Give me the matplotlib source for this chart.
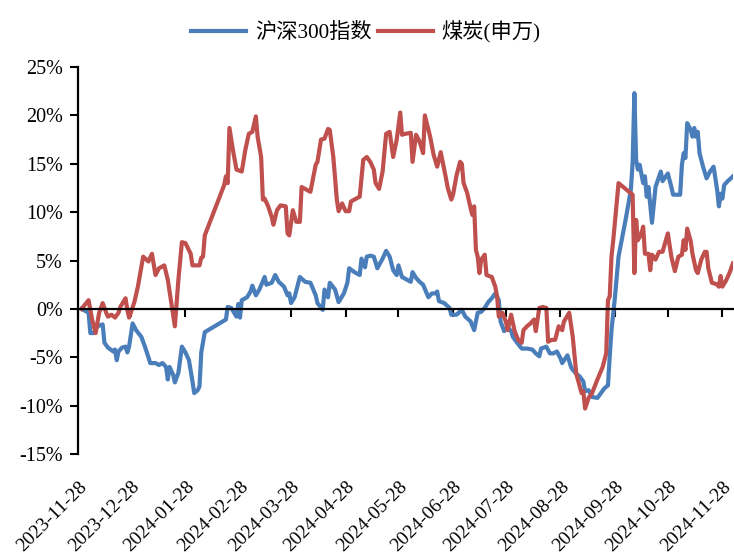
import matplotlib.pyplot as plt
import matplotlib.transforms as mtransforms
import pandas as pd

plt.rcParams['font.family'] = ['Liberation Serif', 'Noto Sans CJK SC']

# 沪深300指数 累计涨跌幅 (%)
hs300_dates = [
    "2023-11-30", "2023-12-04", "2023-12-05", "2023-12-07", "2023-12-09", "2023-12-12", "2023-12-13",
    "2023-12-15", "2023-12-18", "2023-12-19", "2023-12-20", "2023-12-21", "2023-12-23", "2023-12-25",
    "2023-12-26", "2023-12-27", "2023-12-29", "2023-12-31", "2024-01-03", "2024-01-05", "2024-01-07",
    "2024-01-08", "2024-01-11", "2024-01-13", "2024-01-15", "2024-01-17", "2024-01-18", "2024-01-19",
    "2024-01-21", "2024-01-22", "2024-01-24", "2024-01-26", "2024-01-28", "2024-01-30", "2024-02-01",
    "2024-02-02", "2024-02-04", "2024-02-05", "2024-02-06", "2024-02-08", "2024-02-20", "2024-02-21",
    "2024-02-23", "2024-02-26", "2024-02-27", "2024-02-28", "2024-02-29", "2024-03-03", "2024-03-05",
    "2024-03-06", "2024-03-08", "2024-03-10", "2024-03-13", "2024-03-14", "2024-03-17", "2024-03-19",
    "2024-03-21", "2024-03-24", "2024-03-26", "2024-03-27", "2024-03-28", "2024-03-30", "2024-04-02",
    "2024-04-05", "2024-04-08", "2024-04-11", "2024-04-12", "2024-04-15", "2024-04-16", "2024-04-18",
    "2024-04-19", "2024-04-22", "2024-04-24", "2024-04-27", "2024-04-29", "2024-04-30", "2024-05-03",
    "2024-05-06", "2024-05-07", "2024-05-09", "2024-05-10", "2024-05-12", "2024-05-14", "2024-05-16",
    "2024-05-19", "2024-05-21", "2024-05-23", "2024-05-25", "2024-05-27", "2024-05-28", "2024-05-30",
    "2024-06-02", "2024-06-04", "2024-06-05", "2024-06-07", "2024-06-09", "2024-06-11", "2024-06-14",
    "2024-06-16", "2024-06-18", "2024-06-19", "2024-06-20", "2024-06-23", "2024-06-26", "2024-06-27",
    "2024-06-30", "2024-07-03", "2024-07-05", "2024-07-08", "2024-07-10", "2024-07-12", "2024-07-14",
    "2024-07-16", "2024-07-18", "2024-07-20", "2024-07-22", "2024-07-24", "2024-07-25", "2024-07-27",
    "2024-07-29", "2024-07-31", "2024-08-01", "2024-08-03", "2024-08-06", "2024-08-09", "2024-08-12",
    "2024-08-14", "2024-08-16", "2024-08-17", "2024-08-20", "2024-08-22", "2024-08-24", "2024-08-26",
    "2024-08-28", "2024-08-29", "2024-09-01", "2024-09-03", "2024-09-04", "2024-09-06", "2024-09-08",
    "2024-09-10", "2024-09-11", "2024-09-13", "2024-09-15", "2024-09-18", "2024-09-20", "2024-09-22",
    "2024-09-24", "2024-09-25", "2024-09-26", "2024-09-28", "2024-09-30", "2024-10-04", "2024-10-07",
    "2024-10-08", "2024-10-09", "2024-10-10", "2024-10-11", "2024-10-12", "2024-10-14", "2024-10-15",
    "2024-10-16", "2024-10-17", "2024-10-19", "2024-10-21", "2024-10-24", "2024-10-25", "2024-10-28",
    "2024-10-30", "2024-10-31", "2024-11-04", "2024-11-05", "2024-11-06", "2024-11-07", "2024-11-08",
    "2024-11-10", "2024-11-11", "2024-11-12", "2024-11-13", "2024-11-14", "2024-11-15", "2024-11-17",
    "2024-11-19", "2024-11-21", "2024-11-23", "2024-11-25", "2024-11-26", "2024-11-27", "2024-11-28",
    "2024-11-29", "2024-12-01", "2024-12-04",
]
hs300_vals = [
    0.0, -0.4, -2.5, -2.5, -1.8, -1.6, -3.5,
    -4.0, -4.4, -4.2, -5.3, -4.4, -4.0, -3.9,
    -4.5, -3.9, -1.5, -2.2, -2.9, -3.9, -5.0,
    -5.6, -5.6, -5.8, -5.6, -6.0, -7.3, -6.0,
    -6.8, -7.6, -6.6, -3.9, -4.5, -5.3, -7.5,
    -8.7, -8.4, -8.0, -4.5, -2.4, -1.1, 0.2,
    0.1, -0.8, 0.5, -0.9, 0.9, 1.2, 1.8,
    2.4, 1.4, 2.0, 3.3, 2.5, 2.7, 3.5,
    2.8, 2.3, 1.4, 1.6, 0.6, 1.2, 3.3,
    2.8, 2.7, 1.4, 0.6, -0.1, 2.0, 1.2,
    2.7, 2.0, 0.7, 1.6, 2.7, 4.2, 3.8,
    3.5, 5.2, 4.3, 5.4, 5.5, 5.4, 4.2,
    5.2, 6.0, 5.4, 4.0, 3.5, 4.5, 3.3,
    3.0, 2.8, 3.8, 3.2, 2.8, 2.5, 1.2,
    1.6, 1.6, 1.8, 0.8, 0.6, 0.1, -0.6,
    -0.6, -0.1, -0.8, -1.3, -2.2, -0.4, -0.3,
    0.1, 0.7, 1.1, 1.6, 0.9, -1.3, -2.3,
    -1.9, -2.3, -2.9, -3.4, -4.1, -4.1, -4.2,
    -4.6, -4.9, -4.1, -3.9, -4.6, -4.6, -4.4,
    -5.1, -5.6, -4.8, -6.0, -6.3, -6.7, -7.0,
    -7.5, -8.5, -8.4, -9.1, -9.2, -8.7, -8.2,
    -7.9, -4.9, -2.2, 1.3, 5.4, 9.2, 12.3,
    15.1, 22.3, 15.4, 14.4, 14.9, 13.0, 13.7,
    11.6, 12.6, 8.9, 12.6, 14.2, 13.2, 14.0,
    12.6, 11.8, 11.8, 14.9, 16.1, 15.6, 19.2,
    18.5, 17.8, 18.7, 17.8, 18.3, 16.1, 14.7,
    13.5, 14.2, 14.7, 12.3, 10.6, 11.9, 11.4,
    12.8, 13.2, 13.7,
]

# 煤炭(申万) 累计涨跌幅 (%)
coal_dates = [
    "2023-11-30", "2023-12-04", "2023-12-06", "2023-12-08", "2023-12-10", "2023-12-12", "2023-12-14",
    "2023-12-15", "2023-12-17", "2023-12-19", "2023-12-21", "2023-12-22", "2023-12-25", "2023-12-26",
    "2023-12-27", "2023-12-30", "2024-01-01", "2024-01-04", "2024-01-07", "2024-01-09", "2024-01-11",
    "2024-01-13", "2024-01-16", "2024-01-18", "2024-01-20", "2024-01-22", "2024-01-24", "2024-01-26",
    "2024-01-28", "2024-01-31", "2024-02-01", "2024-02-05", "2024-02-06", "2024-02-07", "2024-02-08",
    "2024-02-19", "2024-02-20", "2024-02-21", "2024-02-22", "2024-02-24", "2024-02-26", "2024-02-29",
    "2024-03-02", "2024-03-04", "2024-03-06", "2024-03-08", "2024-03-09", "2024-03-11", "2024-03-12",
    "2024-03-13", "2024-03-15", "2024-03-17", "2024-03-18", "2024-03-20", "2024-03-22", "2024-03-25",
    "2024-03-26", "2024-03-27", "2024-03-29", "2024-03-31", "2024-04-02", "2024-04-03", "2024-04-08",
    "2024-04-11", "2024-04-12", "2024-04-14", "2024-04-16", "2024-04-18", "2024-04-19", "2024-04-21",
    "2024-04-23", "2024-04-24", "2024-04-26", "2024-04-28", "2024-04-30", "2024-05-01", "2024-05-03",
    "2024-05-06", "2024-05-08", "2024-05-10", "2024-05-12", "2024-05-14", "2024-05-15", "2024-05-17",
    "2024-05-19", "2024-05-21", "2024-05-23", "2024-05-25", "2024-05-27", "2024-05-29", "2024-05-30",
    "2024-06-01", "2024-06-04", "2024-06-05", "2024-06-07", "2024-06-09", "2024-06-11", "2024-06-12",
    "2024-06-15", "2024-06-17", "2024-06-19", "2024-06-21", "2024-06-24", "2024-06-25", "2024-06-27",
    "2024-06-28", "2024-06-30", "2024-07-02", "2024-07-03", "2024-07-04", "2024-07-06", "2024-07-08",
    "2024-07-09", "2024-07-10", "2024-07-11", "2024-07-12", "2024-07-13", "2024-07-14", "2024-07-16",
    "2024-07-17", "2024-07-20", "2024-07-22", "2024-07-23", "2024-07-24", "2024-07-26", "2024-07-28",
    "2024-07-29", "2024-07-31", "2024-08-02", "2024-08-04", "2024-08-06", "2024-08-07", "2024-08-09",
    "2024-08-11", "2024-08-13", "2024-08-14", "2024-08-16", "2024-08-18", "2024-08-20", "2024-08-21",
    "2024-08-23", "2024-08-25", "2024-08-27", "2024-08-29", "2024-08-30", "2024-09-02", "2024-09-04",
    "2024-09-06", "2024-09-09", "2024-09-10", "2024-09-11", "2024-09-13", "2024-09-15", "2024-09-18",
    "2024-09-21", "2024-09-23", "2024-09-24", "2024-09-25", "2024-09-26", "2024-09-27", "2024-09-30",
    "2024-10-08", "2024-10-09", "2024-10-10", "2024-10-11", "2024-10-13", "2024-10-14", "2024-10-15",
    "2024-10-17", "2024-10-18", "2024-10-19", "2024-10-21", "2024-10-23", "2024-10-25", "2024-10-28",
    "2024-10-30", "2024-11-01", "2024-11-03", "2024-11-05", "2024-11-06", "2024-11-07", "2024-11-08",
    "2024-11-10", "2024-11-11", "2024-11-13", "2024-11-14", "2024-11-16", "2024-11-18", "2024-11-19",
    "2024-11-20", "2024-11-22", "2024-11-24", "2024-11-25", "2024-11-26", "2024-11-27", "2024-11-28",
    "2024-11-30", "2024-12-02", "2024-12-04",
]
coal_vals = [
    0.0, 0.9, -1.1, -2.5, -0.4, 0.6, -0.4,
    -0.8, -0.6, -0.9, -0.4, 0.2, 1.1, -0.1,
    -0.9, 0.7, 2.3, 5.4, 4.9, 5.7, 3.5,
    4.2, 4.5, 3.0, 0.6, -1.8, 3.0, 6.9,
    6.8, 5.7, 4.5, 4.5, 5.3, 5.4, 7.6,
    12.8, 13.7, 13.0, 18.7, 16.4, 14.4, 14.2,
    16.4, 18.1, 18.3, 19.9, 17.8, 15.7, 11.3,
    11.4, 10.6, 9.5, 8.7, 10.2, 10.7, 10.6,
    7.8, 7.6, 10.2, 9.0, 9.0, 12.6, 12.1,
    14.9, 15.2, 17.5, 17.6, 18.6, 18.5, 15.7,
    11.3, 10.1, 10.9, 10.1, 10.1, 11.1, 11.3,
    11.6, 15.4, 15.7, 15.2, 14.4, 13.0, 12.4,
    14.2, 18.1, 18.3, 15.7, 17.5, 20.3, 18.0,
    18.1, 18.2, 15.2, 18.0, 17.3, 16.1, 20.0,
    17.8, 15.9, 14.7, 16.2, 13.5, 12.5, 11.3,
    11.8, 13.8, 15.2, 15.0, 13.0, 12.0, 10.4,
    9.7, 10.6, 6.1, 5.4, 3.7, 5.1, 5.6,
    3.5, 3.3, 2.3, 1.3, -0.8, -0.4, -1.3,
    -2.2, -0.6, -2.3, -3.2, -3.5, -2.2, -1.8,
    -1.5, -1.1, -2.3, 0.1, 0.2, 0.1, -3.4,
    -3.2, -3.2, -1.8, -2.2, -1.3, -0.4, -2.9,
    -6.7, -8.7, -8.5, -10.3, -9.2, -8.7, -7.3,
    -6.0, -4.6, 0.9, 1.3, 5.4, 7.1, 13.0,
    11.8, 3.7, 9.2, 7.1, 7.8, 8.5, 5.7,
    5.7, 4.0, 5.6, 5.1, 5.9, 5.9, 7.8,
    5.4, 3.9, 5.4, 5.6, 7.1, 6.1, 8.3,
    7.0, 5.7, 4.0, 3.7, 5.1, 5.9, 5.9,
    4.2, 2.7, 2.6, 2.5, 2.3, 3.4, 2.3,
    2.9, 3.7, 4.7,
]

tick_dates = ["2023-11-28", "2023-12-28", "2024-01-28", "2024-02-28", "2024-03-28", "2024-04-28",
              "2024-05-28", "2024-06-28", "2024-07-28", "2024-08-28", "2024-09-28", "2024-10-28",
              "2024-11-28"]
y_ticks = [-15, -10, -5, 0, 5, 10, 15, 20, 25]

fig = plt.figure(figsize=(7.34, 5.59), dpi=100)
ax = fig.add_axes([0.1063, 0.1878, 0.8923, 0.6923])

ax.plot(pd.to_datetime(hs300_dates), hs300_vals, color='#4A7EBB', lw=3.0, label='沪深300指数')
ax.plot(pd.to_datetime(coal_dates), coal_vals, color='#C0504D', lw=3.0, label='煤炭(申万)')

ax.set_ylim(-15, 25)
ax.set_xlim(pd.Timestamp("2023-11-28"), pd.Timestamp("2024-12-04"))

# x轴放在0处
ax.spines['bottom'].set_position(('data', 0))
ax.spines['top'].set_visible(False)
ax.spines['right'].set_visible(False)
ax.spines['left'].set_linewidth(1.6)
ax.spines['bottom'].set_linewidth(1.6)

ax.set_xticks(pd.to_datetime(tick_dates))
ax.set_xticklabels([])
ax.tick_params(axis='x', direction='out', length=6, width=1.5)

ax.set_yticks(y_ticks)
ax.set_yticklabels([f"{v}%" for v in y_ticks], fontsize=14.5)
ax.tick_params(axis='y', direction='out', length=6, width=1.5, pad=5)

# 日期标签画在图底部
trans = mtransforms.blended_transform_factory(ax.transData, ax.transAxes)
trans = mtransforms.offset_copy(trans, fig=fig, x=0, y=-24, units='dots')
for d in tick_dates:
    ax.text(pd.Timestamp(d), 0, d, transform=trans, rotation=45, ha='right', va='top',
            rotation_mode='anchor', fontsize=14)

fig.legend(loc='center', bbox_to_anchor=(0.4986, 1 - 32 / 559), ncol=2, frameon=False,
           fontsize=15.3, handlelength=2.6, handletextpad=0.4, columnspacing=0.3)

fig.savefig('out.png', dpi=100)
